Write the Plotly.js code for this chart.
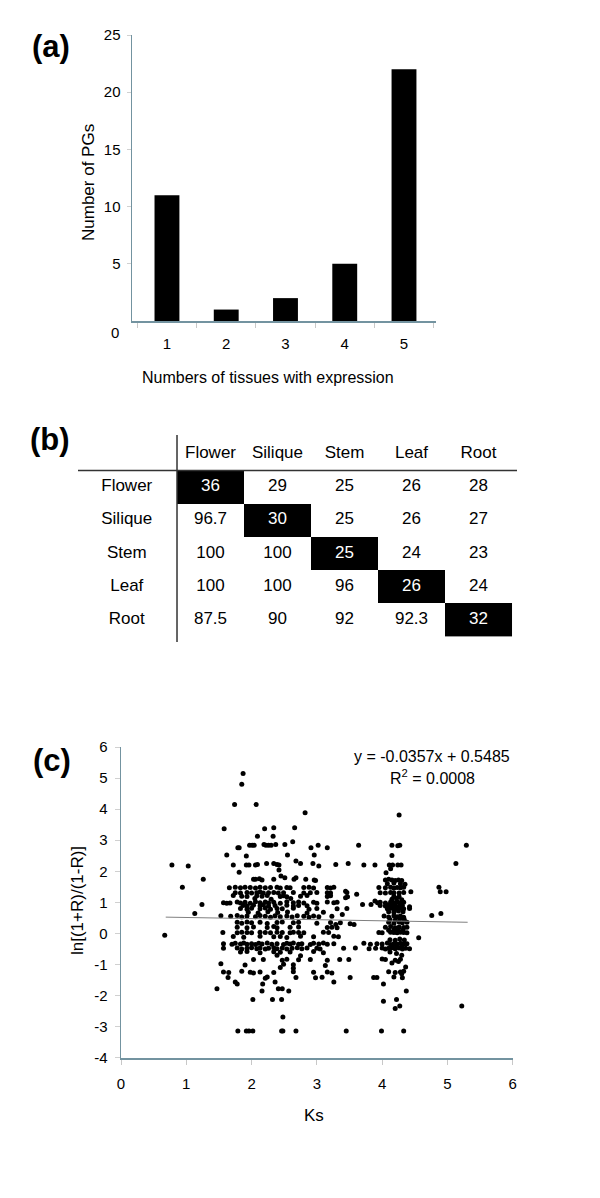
<!DOCTYPE html>
<html><head><meta charset="utf-8">
<script src="https://cdn.plot.ly/plotly-3.0.1.min.js"></script>
<style>html,body{margin:0;padding:0;background:#fff}#chart{width:600px;height:1198px}</style>
</head><body><div id="chart"></div>
<script>
// ---------- (a) ----------
const tissueCounts = ['1','2','3','4','5'];
const pgCounts = [11, 1, 2, 5, 22];
const aTickVals = [5, 10, 15, 20, 25];

// ---------- (b) ----------
const tissues = ['Flower','Silique','Stem','Leaf','Root'];
const overlapRow1 = ['36','29','25','26','28'];
const overlapRow2 = ['96.7','30','25','26','27'];
const overlapRow3 = ['100','100','25','24','23'];
const overlapRow4 = ['100','100','96','26','24'];
const overlapRow5 = ['87.5','90','92','92.3','32'];
const overlapRows = [overlapRow1, overlapRow2, overlapRow3, overlapRow4, overlapRow5];

// ---------- (c) ----------
const cTickVals = [-4,-3,-2,-1,0,1,2,3,4,5,6];
const cTickText = ['-4','-3','-2','-1','0','1','2','3','4','5','6'];
const trendSlope = -0.0357, trendIntercept = 0.5485;
const trendKs = [0.685, 5.31];
const ksLnrPairs = [
[1.87,5.15],[1.85,4.80],[1.74,4.15],[2.07,4.15],[2.82,3.88],[4.26,3.81],
[1.58,3.37],[2.20,3.37],[2.34,3.40],[2.66,3.40],[2.09,3.13],[2.33,3.13],[2.63,2.95],
[1.79,2.76],[1.81,2.76],[1.97,2.84],[2.01,2.84],[2.04,2.84],[2.19,2.86],[2.22,2.84],[2.26,2.84],[2.30,2.84],[2.37,2.86],[2.51,2.86],[2.91,2.76],[3.02,2.84],[3.16,2.76],[3.64,2.84],[4.15,2.84],[4.24,2.82],[4.27,2.84],[5.29,2.84],
[1.62,2.52],[1.92,2.49],[2.55,2.52],[2.96,2.52],[4.15,2.51],
[0.78,2.20],[1.03,2.17],[1.72,2.20],[1.92,2.20],[1.96,2.20],[2.06,2.20],[2.09,2.22],[2.23,2.25],[2.34,2.25],[2.39,2.22],[2.42,2.20],[2.68,2.33],[2.75,2.25],[2.94,2.25],[3.03,2.17],[3.29,2.22],[3.48,2.25],[3.72,2.20],[3.89,2.20],[4.11,2.20],[4.16,2.20],[4.24,2.20],[4.29,2.20],[5.13,2.25],
[1.81,1.97],[2.42,2.04],[4.06,1.95],[4.13,2.08],
[1.26,1.74],[2.03,1.74],[2.06,1.74],[2.12,1.76],[2.16,1.72],[2.34,1.74],[2.45,1.85],[2.51,1.79],[2.65,1.74],[2.68,1.79],[2.83,1.74],[2.96,1.72],[2.98,1.70],
[4.05,1.72],[4.10,1.74],[4.15,1.72],[4.20,1.70],[4.25,1.72],[4.30,1.70],[4.08,1.60],[4.18,1.62],[4.28,1.60],[4.35,1.58],
[0.94,1.49],[4.87,1.49],[4.89,1.34],[4.98,1.34],[4.44,1.34],[3.47,1.18],[3.61,1.26],[4.76,0.58],[4.90,0.64],[1.13,0.64],[1.24,0.93],[3.70,0.93],[3.83,0.93],[3.89,1.04],[3.93,0.99],[3.39,0.61],[3.44,1.36],[3.44,1.15],[3.51,0.31],[3.57,0.29],[3.29,0.29],[3.36,0.34],[3.26,-0.09],[3.33,-0.11],[4.56,-0.14],[0.67,-0.06],
[1.66,1.47],[1.75,1.49],[1.83,1.47],[1.90,1.49],[1.98,1.48],[2.06,1.46],[2.13,1.49],[2.21,1.47],[2.29,1.48],[2.39,1.49],[2.44,1.46],[2.54,1.48],[2.59,1.47],[2.80,1.48],[2.88,1.49],[2.95,1.46],[3.16,1.48],[3.21,1.46],[3.26,1.49],[3.95,1.48],[4.05,1.47],[4.13,1.49],[4.18,1.46],[4.23,1.48],[4.28,1.47],[4.33,1.49],
[1.75,1.31],[1.83,1.30],[1.93,1.32],[2.00,1.30],[2.08,1.31],[2.13,1.33],[2.18,1.30],[2.26,1.31],[2.34,1.32],[2.41,1.30],[2.49,1.31],[2.64,1.32],[2.80,1.30],[2.90,1.31],[3.00,1.32],[3.16,1.31],[3.21,1.30],[3.46,1.32],[3.97,1.31],[4.05,1.30],[4.13,1.32],[4.18,1.31],[4.26,1.30],[4.33,1.32],
[1.72,1.22],[1.85,1.20],[1.93,1.19],[2.08,1.21],[2.16,1.20],[2.24,1.22],[2.44,1.19],[2.49,1.21],[2.54,1.18],[2.75,1.20],[2.85,1.22],[3.16,1.19],[3.21,1.21],[4.18,1.20],[4.26,1.18],
[1.57,0.99],[1.62,0.97],[1.67,0.98],[1.78,1.01],[1.83,0.98],[1.90,1.00],[1.98,0.97],[2.06,1.02],[2.13,0.99],[2.21,1.01],[2.26,0.98],[2.34,1.00],[2.44,0.97],[2.54,1.02],[2.64,0.99],[2.72,1.01],[2.80,0.98],[2.95,1.00],[3.00,0.97],[3.16,1.01],[3.26,0.99],[3.31,1.00],[3.97,1.00],[4.05,0.98],[4.13,1.01],[4.18,0.99],[4.23,1.02],[4.28,0.98],[4.33,1.00],
[1.87,0.90],[1.93,0.88],[2.03,0.91],[2.13,0.89],[2.18,0.92],[2.26,0.88],[2.36,0.90],[2.54,0.91],[2.64,0.88],[2.72,0.90],[2.85,0.89],[3.97,0.90],[4.05,0.88],[4.10,0.92],[4.15,0.89],[4.20,0.91],[4.26,0.88],[4.31,0.90],[4.42,0.86],
[1.83,0.80],[1.93,0.78],[2.00,0.81],[2.13,0.79],[2.21,0.82],[2.29,0.78],[2.39,0.80],[2.47,0.79],[2.64,0.81],[2.88,0.78],[3.00,0.80],[3.31,0.79],[3.46,0.80],[4.08,0.79],[4.13,0.81],[4.18,0.78],[4.23,0.80],[4.28,0.82],[4.33,0.79],[4.42,0.80],
[1.95,0.68],[2.10,0.66],[2.25,0.70],[2.40,0.67],[2.55,0.69],[2.85,0.66],[3.10,0.68],[2.05,1.12],[2.30,1.10],[2.60,1.12],
[1.53,0.57],[1.68,0.55],[1.78,0.58],[1.85,0.53],[1.93,0.56],[2.06,0.54],[2.13,0.58],[2.21,0.55],[2.29,0.52],[2.36,0.57],[2.44,0.54],[2.54,0.56],[2.62,0.53],[2.70,0.57],[2.80,0.55],[2.88,0.52],[2.95,0.56],[3.03,0.54],[3.23,0.55],[4.03,0.56],[4.10,0.53],[4.18,0.57],[4.23,0.54],[4.28,0.56],[4.33,0.52],
[1.78,0.36],[1.85,0.33],[1.93,0.37],[2.00,0.34],[2.13,0.36],[2.24,0.32],[2.39,0.35],[2.47,0.37],[2.64,0.34],[2.72,0.36],[3.00,0.33],[3.21,0.35],[4.10,0.36],[4.18,0.33],[4.26,0.37],[4.31,0.34],[4.38,0.36],
[1.78,0.20],[1.93,0.18],[2.03,0.21],[2.24,0.19],[2.34,0.22],[2.39,0.18],[2.59,0.20],[2.72,0.21],[3.16,0.19],[3.23,0.20],[3.31,0.18],[4.05,0.20],[4.13,0.22],[4.20,0.18],[4.26,0.21],[4.33,0.19],[4.38,0.20],
[1.56,0.03],[1.78,0.02],[1.85,0.04],[1.93,0.03],[2.00,0.02],[2.13,0.04],[2.21,0.03],[2.29,0.02],[2.39,0.04],[2.47,0.03],[2.59,0.02],[2.64,0.04],[2.72,0.03],[2.80,0.02],[3.10,0.04],[3.18,0.03],[3.95,0.03],[4.00,0.02],[4.13,0.04],[4.18,0.03],[4.23,0.02],[4.28,0.04],[4.33,0.03],[4.38,0.02],
[1.72,-0.10],[1.88,-0.12],[2.13,-0.09],[2.34,-0.11],[2.44,-0.10],[2.54,-0.13],[2.75,-0.09],[2.95,-0.11],
[1.57,-0.33],[1.70,-0.35],[1.75,-0.32],[1.83,-0.34],[1.88,-0.31],[1.93,-0.35],[2.00,-0.33],[2.06,-0.36],[2.11,-0.32],[2.16,-0.34],[2.24,-0.31],[2.31,-0.35],[2.39,-0.33],[2.49,-0.36],[2.54,-0.32],[2.59,-0.34],[2.64,-0.31],[2.72,-0.35],[2.77,-0.33],[2.90,-0.36],[2.95,-0.32],[3.03,-0.34],[3.10,-0.31],[3.16,-0.35],[3.26,-0.33],[3.72,-0.32],[3.82,-0.35],[3.92,-0.33],[4.00,-0.34],[4.08,-0.31],[4.13,-0.36],[4.18,-0.33],[4.23,-0.35],[4.28,-0.32],[4.33,-0.34],[4.38,-0.33],
[1.57,-0.48],[1.78,-0.47],[1.85,-0.50],[1.93,-0.48],[2.00,-0.46],[2.08,-0.49],[2.13,-0.47],[2.21,-0.50],[2.26,-0.48],[2.34,-0.46],[2.39,-0.49],[2.47,-0.47],[2.54,-0.50],[2.62,-0.48],[2.70,-0.46],[2.77,-0.49],[2.85,-0.47],[3.00,-0.48],[3.05,-0.50],[3.41,-0.48],[3.59,-0.47],[3.80,-0.49],[3.90,-0.48],[4.00,-0.47],[4.05,-0.50],[4.10,-0.48],[4.15,-0.46],[4.20,-0.49],[4.26,-0.47],[4.31,-0.50],[4.36,-0.48],[4.42,-0.49],
[1.83,-0.60],[1.93,-0.58],[2.13,-0.62],[2.34,-0.59],[2.44,-0.61],[2.59,-0.60],[2.95,-0.58],[3.10,-0.62],
[2.39,-0.70],[2.75,-0.72],
[2.03,-0.84],[2.18,-0.84],[2.47,-0.86],[2.54,-0.83],[2.72,-0.85],[2.90,-0.84],[3.16,-0.86],[3.35,-0.84],[3.49,-0.84],[4.00,-0.82],[4.05,-0.84],[4.20,-0.86],[4.28,-0.83],
[1.53,-0.98],[1.90,-1.02],[2.49,-0.99],[2.64,-1.01],[3.13,-1.03],
[2.44,-1.10],[2.64,-1.12],[4.36,-1.08],
[1.57,-1.24],[1.65,-1.26],[1.85,-1.22],[1.98,-1.25],[2.03,-1.27],[2.13,-1.24],[2.34,-1.26],[2.64,-1.23],[2.95,-1.25],[3.16,-1.24],[3.23,-1.27],[4.10,-1.23],[4.20,-1.26],[4.28,-1.24],[4.33,-1.22],
[1.64,-1.42],[2.21,-1.44],[2.24,-1.40],[2.68,-1.42],[2.98,-1.43],[3.08,-1.41],[3.51,-1.42],[3.87,-1.42],[3.92,-1.42],[4.18,-1.40],[4.31,-1.43],
[1.75,-1.56],[2.36,-1.56],[3.26,-1.56],[1.78,-1.63],[2.17,-1.63],[4.02,-1.63],
[1.47,-1.78],[2.41,-1.78],[2.47,-1.78],[2.16,-1.85],[2.57,-1.85],[4.37,-1.85],
[2.02,-2.13],[2.32,-2.13],[2.46,-2.13],[4.02,-2.18],[4.22,-2.13],
[4.27,-2.34],[5.22,-2.34],[4.20,-2.42],[2.48,-2.69],
[1.79,-3.14],[1.92,-3.14],[1.96,-3.14],[2.02,-3.14],[2.46,-3.14],[2.48,-3.14],[2.68,-3.14],[3.45,-3.14],[3.99,-3.14],[4.33,-3.14],
[4.10,0.70],[4.18,0.68],[4.25,0.72],[4.32,0.70],[4.12,0.45],[4.20,0.43],[4.27,0.47],[4.34,0.44],[4.10,0.10],[4.18,0.12],[4.25,0.09],[4.32,0.11],[4.12,-0.20],[4.20,-0.22],[4.27,-0.18],[4.34,-0.21],[4.15,-0.40],[4.22,-0.42],[4.30,-0.40],[4.15,1.10],[4.22,1.12],[4.30,1.08],[4.15,-0.95],[4.25,-0.90],[4.30,-1.30],[4.22,-0.65],[4.30,-0.70],[4.12,-0.60]
];

// ---------- build ----------
const FONT = 'Liberation Sans, Arial, Helvetica, sans-serif';
const AXC = '#7393a0';
const W = 600, H = 1198;
const px = v => v / W;
const py = v => 1 - v / H;

const ks = ksLnrPairs.map(p => p[0]);
const lnr = ksLnrPairs.map(p => p[1]);

// table text
const tX = [], tY = [], tT = [], tC = [];
tissues.forEach((t, j) => { tX.push(j); tY.push(-1); tT.push(t); tC.push('#000'); });
tissues.forEach((t, i) => { tX.push(-1.25); tY.push(i); tT.push(t); tC.push('#000'); });
overlapRows.forEach((row, i) => row.forEach((v, j) => {
  tX.push(j); tY.push(i); tT.push(v); tC.push(i === j ? '#fff' : '#000');
}));
const diagZ = tissues.map((_, i) => tissues.map((_, j) => i === j ? 1 : null));

const traces = [
  { type: 'bar', x: tissueCounts, y: pgCounts, width: 0.42, marker: { color: '#000' },
    xaxis: 'x', yaxis: 'y', hoverinfo: 'skip' },
  { type: 'heatmap', x: [0,1,2,3,4], y: [0,1,2,3,4], z: diagZ, zmin: 0, zmax: 1,
    colorscale: [[0,'#000'],[1,'#000']], showscale: false, xaxis: 'x2', yaxis: 'y2', hoverinfo: 'skip' },
  { type: 'scatter', mode: 'text', x: tX, y: tY, text: tT,
    textfont: { family: FONT, size: 17, color: tC }, textposition: 'middle center',
    xaxis: 'x2', yaxis: 'y2', hoverinfo: 'skip', cliponaxis: false },
  { type: 'scatter', mode: 'markers', x: ks, y: lnr,
    marker: { color: '#000', size: 5 }, xaxis: 'x3', yaxis: 'y3', hoverinfo: 'skip' },
  { type: 'scatter', mode: 'lines', x: trendKs, y: trendKs.map(k => trendSlope * k + trendIntercept),
    line: { color: '#808080', width: 1 }, xaxis: 'x3', yaxis: 'y3', hoverinfo: 'skip' }
];

const ann = (text, x, y, size, extra) => Object.assign({
  text, x: px(x), y: py(y), xref: 'paper', yref: 'paper', showarrow: false,
  xanchor: 'center', yanchor: 'middle', font: { family: FONT, size, color: '#000' }
}, extra || {});

const layout = {
  width: W, height: H, margin: { l: 0, r: 0, t: 0, b: 0 },
  paper_bgcolor: '#fff', plot_bgcolor: 'rgba(0,0,0,0)', showlegend: false,
  font: { family: FONT, color: '#000' },
  xaxis: { domain: [px(132), px(436)], anchor: 'y', type: 'category', range: [-0.59, 4.54],
    showline: true, linecolor: AXC, linewidth: 2, ticks: 'outside', tickson: 'boundaries',
    ticklen: 5, tickcolor: '#c8c8c8', tickfont: { size: 15 }, ticklabelstandoff: 8,
    showgrid: false, zeroline: false, fixedrange: true },
  yaxis: { domain: [py(321), py(35)], anchor: 'x', range: [0, 25], tickvals: aTickVals,
    showline: true, linecolor: AXC, linewidth: 1.5, ticks: 'outside', ticklen: 4, tickcolor: '#d0d0d0',
    tickfont: { size: 15 }, ticklabelstandoff: 3, showgrid: false, zeroline: false, fixedrange: true },
  xaxis2: { domain: [px(78), px(517)], anchor: 'y2', range: [-1.978, 4.575], visible: false, fixedrange: true },
  yaxis2: { domain: [py(642), py(435)], anchor: 'x2', range: [4.67, -1.566], visible: false, fixedrange: true },
  xaxis3: { domain: [px(121), px(512.7)], anchor: 'y3', range: [0, 6], dtick: 1,
    showline: true, linecolor: AXC, linewidth: 2, ticks: 'outside', ticklen: 5, tickcolor: '#c8c8c8',
    tickfont: { size: 15 }, ticklabelstandoff: 6, showgrid: false, zeroline: false, fixedrange: true },
  yaxis3: { domain: [py(1057.7), py(747)], anchor: 'x3', range: [-4, 6],
    tickvals: cTickVals, ticktext: cTickText,
    showline: true, linecolor: AXC, linewidth: 1.5, ticks: 'outside', ticklen: 5, tickcolor: '#d0d0d0',
    tickfont: { size: 15 }, ticklabelstandoff: 4, showgrid: false, zeroline: false, fixedrange: true },
  shapes: [
    { type: 'line', xref: 'x2', yref: 'y2 domain', x0: -0.5, x1: -0.5, y0: 0, y1: 1,
      line: { color: '#333', width: 1.5 } },
    { type: 'line', xref: 'x2 domain', yref: 'y2', x0: 0, x1: 1, y0: -0.5, y1: -0.5,
      line: { color: '#333', width: 1.5 } }
  ],
  annotations: [
    ann('<b>(a)</b>', 51, 47, 31),
    ann('<b>(b)</b>', 50, 440, 31),
    ann('<b>(c)</b>', 52, 760, 31),
    ann('0', 121, 332, 15, { xanchor: 'right' }),
    ann('Numbers of tissues with expression', 267.5, 377, 16),
    ann('Number of PGs', 88, 183, 17, { textangle: -90 }),
    ann('y = -0.0357x + 0.5485', 432, 756, 16),
    ann('R<sup>2</sup> = 0.0008', 432, 777, 16),
    ann('Ks', 314, 1115, 17),
    ann('ln[(1+R)/(1-R)]', 77, 901, 17, { textangle: -90 })
  ]
};

Plotly.newPlot('chart', traces, layout, { displayModeBar: false, staticPlot: true });
</script>
</body></html>
